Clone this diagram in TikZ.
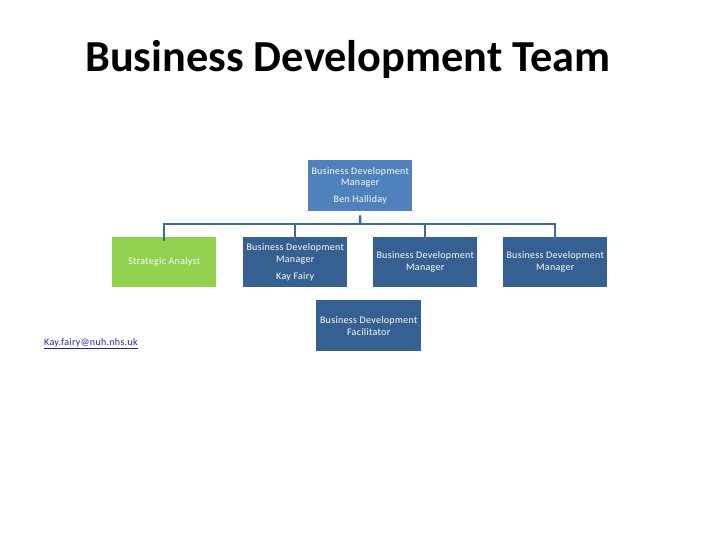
\documentclass[tikz,border=0pt]{standalone}
\usepackage{fontspec}
\setmainfont{Carlito}
\newfontfamily\boxfont[LetterSpace=3]{Carlito}
\definecolor{topblue}{HTML}{4F81BD}
\definecolor{darkblue}{HTML}{376092}
\definecolor{lgreen}{HTML}{92D050}
\definecolor{linkblue}{HTML}{1F1FBF}
\definecolor{conn}{HTML}{3F6A9E}
\begin{document}
\begin{tikzpicture}[x=1pt,y=-1pt,
  box/.style={draw=none,minimum width=104pt,minimum height=50pt,inner sep=0pt,
    text=white,font=\boxfont\fontsize{10}{11.8}\selectfont,align=center,anchor=north west},
  conline/.style={draw=conn,line width=2.5pt}]
\useasboundingbox (0,0) rectangle (720,540);
\node[font=\fontsize{44.3}{50}\selectfont\bfseries] (title) at (348,59) {Business Development Team};
\node[box,fill=topblue,minimum height=51pt] (top) at (308,160) {Business Development\\Manager\\[5pt]Ben Halliday};
\node[box,fill=lgreen] (sa) at (112,237) {Strategic Analyst};
\node[box,fill=darkblue] (kf) at (243,237) {Business Development\\Manager\\[5pt]Kay Fairy};
\node[box,fill=darkblue] (m3) at (373,237) {Business Development\\Manager};
\node[box,fill=darkblue] (m4) at (503,237) {Business Development\\Manager};
\node[box,fill=darkblue,minimum width=105pt,minimum height=51pt] (fac) at (316,300) {Business Development\\Facilitator};
\node[font=\boxfont\fontsize{10}{11}\selectfont,text=linkblue,anchor=west,inner sep=0pt] (mail) at (44,344) {\underline{Kay.fairy@nuh.nhs.uk}};
\coordinate (bus) at (360,224);
\draw[conline] ([yshift=-4pt]top.south) -- (bus);
\draw[conline] ([yshift=-4pt]sa.north) |- (bus) -| ([yshift=-4pt]m4.north);
\draw[conline] ([yshift=-4pt]kf.north) -- (kf.north |- bus);
\draw[conline] ([yshift=-4pt]m3.north) -- (m3.north |- bus);
\end{tikzpicture}
\end{document}
